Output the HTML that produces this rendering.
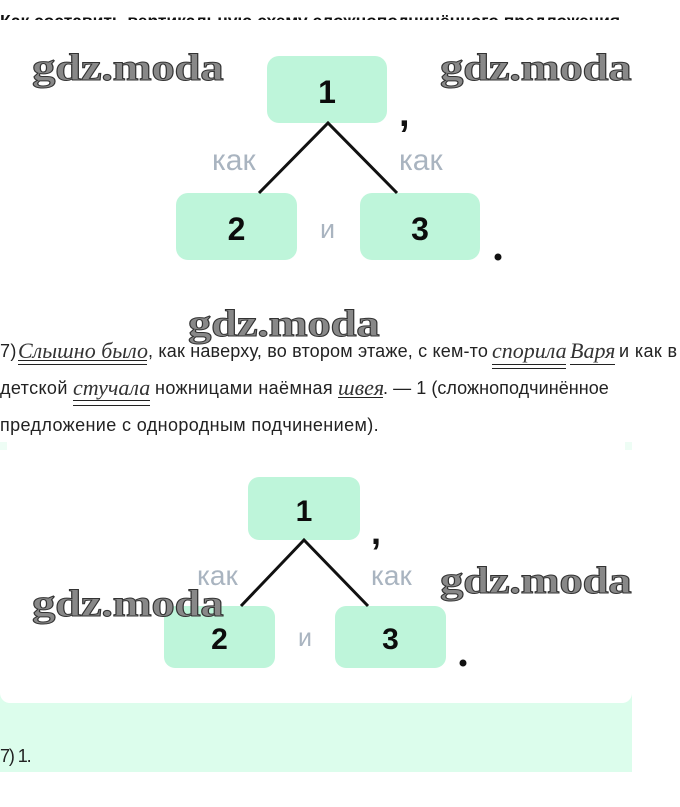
<!DOCTYPE html>
<html><head><meta charset="utf-8">
<style>
html,body{margin:0;padding:0;background:#fff;width:680px;height:807px;overflow:hidden}
#p{position:relative;width:680px;height:807px;overflow:hidden}
.t{position:absolute;white-space:nowrap;font-family:"Liberation Sans",sans-serif;font-size:18px;letter-spacing:.38px;color:#222;line-height:20px}
.i{position:absolute;white-space:nowrap;font-family:"Liberation Serif",serif;font-style:italic;font-size:22px;color:#333;line-height:20px}
.b{position:absolute;box-sizing:border-box;display:flex;align-items:center;justify-content:center;background:#bef5da;font-family:"Liberation Sans",sans-serif;font-weight:bold;color:#0c0c0c;padding-top:6px}
.k{position:absolute;font-family:"Liberation Sans",sans-serif;color:#a9b4c0;white-space:nowrap;line-height:1}
.w{position:absolute;font-family:"Liberation Serif",serif;font-weight:bold;font-size:38px;line-height:38px;color:#888;-webkit-text-stroke:1px #333;white-space:nowrap;letter-spacing:-.3px;transform:scaleX(1.235);transform-origin:0 0}
.d{position:absolute;font-family:"Liberation Sans",sans-serif;font-weight:bold;color:#111;line-height:1}
</style></head><body><div id="p">
<div style="position:absolute;left:0;top:0;width:680px;height:20px;overflow:hidden">
<div class="t" style="left:0;top:11px;font-weight:bold;font-size:17.5px;letter-spacing:-.06px;color:#111">Как составить вертикальную схему сложноподчинённого предложения</div></div>

<div class="b" style="left:267px;top:56px;width:120px;height:67px;border-radius:12px;font-size:32px">1</div>
<div class="b" style="left:176px;top:193px;width:121px;height:67px;border-radius:12px;font-size:32px">2</div>
<div class="b" style="left:360px;top:193px;width:120px;height:67px;border-radius:12px;font-size:32px">3</div>
<div class="k" style="left:212px;top:146px;font-size:30px">как</div>
<div class="k" style="left:399px;top:146px;font-size:30px">как</div>
<div class="k" style="left:320px;top:216px;font-size:27px">и</div>
<div class="d" style="left:399px;top:95px;font-size:38px">,</div>

<div class="t" style="left:0;top:341px">7)</div>
<div class="i" style="left:18px;top:341px">Слышно было</div>
<div class="t" style="left:148px;top:341px;letter-spacing:.18px">, как наверху, во втором этаже, с кем-то</div>
<div class="i" style="left:492px;top:341px">спорила</div>
<div class="i" style="left:570px;top:341px">Варя</div>
<div class="t" style="left:619px;top:341px">и как в</div>
<div class="t" style="left:0;top:378px">детской</div>
<div class="i" style="left:73px;top:378px">стучала</div>
<div class="t" style="left:155px;top:378px">ножницами наёмная</div>
<div class="i" style="left:338px;top:378px">швея</div>
<div class="t" style="left:383px;top:378px;letter-spacing:.05px">. — 1 (сложноподчинённое</div>
<div class="t" style="left:0;top:415px">предложение с однородным подчинением).</div>

<div style="position:absolute;left:0;top:680px;width:632px;height:92px;background:#dcfdec"></div>
<div style="position:absolute;left:0;top:442px;width:632px;height:261px;background:#fff;border-radius:0 0 10px 10px"></div>
<div style="position:absolute;left:625px;top:442px;width:7px;height:8px;background:#eefdf5"></div>
<div style="position:absolute;left:0;top:442px;width:7px;height:8px;background:#eefdf5"></div>
<div class="b" style="left:248px;top:477px;width:112px;height:63px;border-radius:11px;font-size:30px">1</div>
<div class="b" style="left:164px;top:606px;width:111px;height:62px;border-radius:11px;font-size:30px">2</div>
<div class="b" style="left:335px;top:606px;width:111px;height:62px;border-radius:11px;font-size:30px">3</div>
<div class="k" style="left:197px;top:562px;font-size:28px">как</div>
<div class="k" style="left:371px;top:562px;font-size:28px">как</div>
<div class="k" style="left:298px;top:626px;font-size:25px">и</div>
<div class="d" style="left:371px;top:514px;font-size:36px">,</div>
<div class="t" style="left:0;top:746px;font-size:18px;letter-spacing:-1.1px">7) 1.</div>

<svg style="position:absolute;left:0;top:0" width="680" height="807">
<path d="M259 193L328 123L397 193" fill="none" stroke="#111" stroke-width="3"/>
<path d="M241 606L304 540L368 606" fill="none" stroke="#111" stroke-width="3"/>
<circle cx="498" cy="257" r="3.5" fill="#111"/>
<circle cx="463" cy="663" r="3.5" fill="#111"/>
<g stroke="#222" stroke-width="1" fill="none">
<path d="M18 360.5H147M18 364.5H147"/>
<path d="M492 364.5H566M492 368.5H566"/>
<path d="M570 364.5H615"/>
<path d="M73 400.5H150M73 405.5H150"/>
<path d="M338 397.5H383"/>
</g>
</svg>

<div class="w" style="left:32px;top:49px">gdz.moda</div>
<div class="w" style="left:440px;top:49px">gdz.moda</div>
<div class="w" style="left:188px;top:305px">gdz.moda</div>
<div class="w" style="left:440px;top:562px">gdz.moda</div>
<div class="w" style="left:32px;top:585px">gdz.moda</div>
</div></body></html>
